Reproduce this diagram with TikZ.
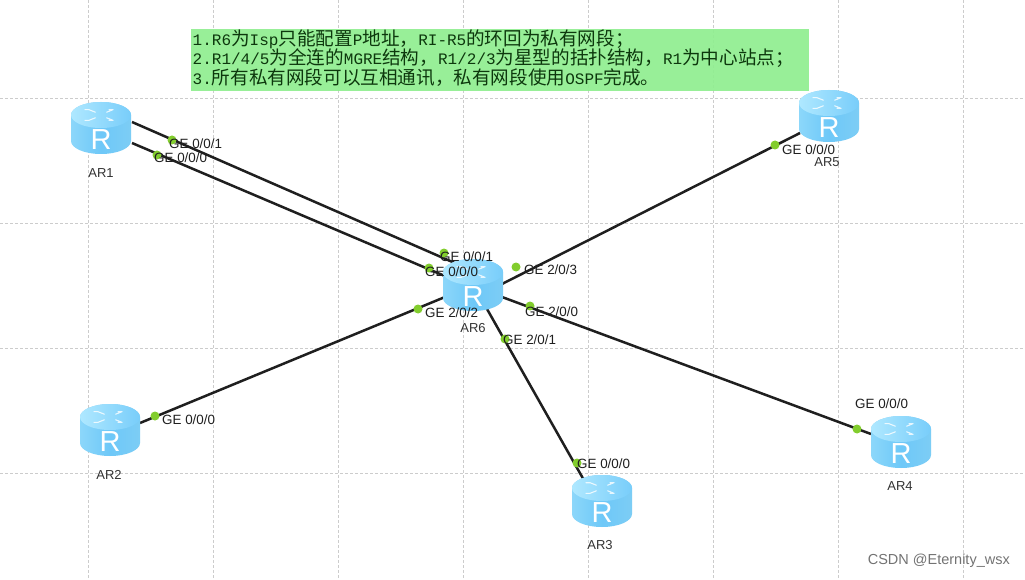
\documentclass[tikz,border=0pt]{standalone}
\usepackage{fontspec}
\setmainfont{Liberation Sans}
\newfontfamily\cjkfont{Noto Sans CJK SC}
\newfontfamily\monofont{Liberation Mono}
\newcommand{\zh}[1]{{\fontsize{18.6}{18.6}\selectfont\cjkfont #1}}
\newcommand{\lat}[1]{{\fontsize{16}{16}\selectfont\monofont #1}}
\definecolor{notegreen}{RGB}{144,238,144}
\definecolor{porg}{RGB}{130,205,45}
\definecolor{rbodyL}{RGB}{140,215,250}
\definecolor{rbodyM}{RGB}{110,200,248}
\definecolor{rbodyR}{RGB}{125,205,245}
\definecolor{rtopL}{RGB}{175,232,255}
\definecolor{rtopR}{RGB}{120,205,250}
\tikzset{
  gridline/.style={draw=black!20,line width=0.7pt,dash pattern=on 3pt off 2pt},
  link/.style={draw=black!88,line width=2.5pt},
  portdot/.style={circle,fill=porg,inner sep=0pt,minimum size=9pt},
  portlab/.style={font=\fontsize{13.4}{13.4}\selectfont,text=black!88,inner sep=0pt,anchor=west},
  routerlab/.style={font=\fontsize{13}{13}\selectfont,text=black!80,inner sep=0pt},
  rhub/.style={circle,inner sep=0pt,minimum size=54pt},
  rletter/.style={font=\fontsize{29}{29}\selectfont,text=white,inner sep=0pt},
  noteline/.style={anchor=west,inner sep=0pt,text=green!18!black!95},
}
\newcommand{\router}[2]{%
  \begin{scope}[shift={(#2)}]
    \path[left color=rbodyL,right color=rbodyR,middle color=rbodyM]
      (-30,-12) -- (-30,14) arc[start angle=180,end angle=0,x radius=30,y radius=13] -- (30,-12)
      arc[start angle=0,end angle=-180,x radius=30,y radius=13] -- cycle;
    \path[left color=rtopL,right color=rtopR]
      (0,-12) ellipse[x radius=30,y radius=13];
    \foreach \a in {45,135,225,315}{
      \draw[white,line width=1.1pt,line cap=round,opacity=.8]
        ({8*cos(\a)},{-12+4*sin(\a)}) -- ({17*cos(\a)},{-12+7.5*sin(\a)})
        ({17*cos(\a)-4},{-12+7.5*sin(\a)}) -- ({17*cos(\a)},{-12+7.5*sin(\a)});
    }
    \node[rletter] (#1R) at (0,13) {R};
  \end{scope}
  \node[rhub] (#1) at (#2) {};
}
\begin{document}
\begin{tikzpicture}[x=1pt,y=-1pt]
\path[use as bounding box,fill=white] (0,0) rectangle (1025,580);
% grid
\foreach \g in {88,213,338,463,588,713,838,963}{\draw[gridline] (\g,0) -- (\g,580);}
\foreach \g in {98,223,348,473}{\draw[gridline] (0,\g) -- (1025,\g);}
% note
\node[fill=notegreen,fill opacity=.92,minimum width=618pt,minimum height=62pt,inner sep=0pt,anchor=north west] (note) at (191,29) {};
\node[noteline] (n1) at (192.5,39) {\lat{1.R6}\zh{为}\lat{Isp}\zh{只能配置}\lat{P}\zh{地址，}\lat{RI-R5}\zh{的环回为私有网段；}};
\node[noteline] (n2) at (192.5,58.5) {\lat{2.R1/4/5}\zh{为全连的}\lat{MGRE}\zh{结构，}\lat{R1/2/3}\zh{为星型的括扑结构，}\lat{R1}\zh{为中心站点；}};
\node[noteline] (n3) at (192.5,78) {\lat{3.}\zh{所有私有网段可以互相通讯，私有网段使用}\lat{OSPF}\zh{完成。}};
% anchors of the links
\coordinate (a1) at (132,122); \coordinate (b1) at (473,271);
\coordinate (a2) at (132,143); \coordinate (b2) at (473,288);
\coordinate (c5) at (800,133); \coordinate (c6) at (500,285);
\coordinate (d2) at (140,423); \coordinate (d6) at (445,297);
\coordinate (e3) at (585,482); \coordinate (e6) at (487,309);
\coordinate (f4) at (871,434); \coordinate (f6) at (502,297);
\draw[link] (a1) -- (b1);
\draw[link] (a2) -- (b2);
\draw[link] (c6) -- (c5);
\draw[link] (d6) -- (d2);
\draw[link] (e6) -- (e3);
\draw[link] (f6) -- (f4);
% routers
\router{ar1}{101,127}
\router{ar5}{829,115}
\router{ar6}{473,284}
\router{ar2}{110,429}
\router{ar3}{602,500}
\router{ar4}{901,441}
% dots
\foreach \n/\x/\y in {p1/172/140,p2/157/155,p3/444/253,p4/429/268,p5/516/267,p6/418/309,p7/530/306,p8/505/339,p9/775/145,p10/155/416,p11/577/463,p12/857/429}{
  \node[portdot] (\n) at (\x,\y) {};
}
% port labels
\node[portlab] (l1) at (169,143.5) {GE 0/0/1};
\node[portlab] (l2) at (154,157.5) {GE 0/0/0};
\node[portlab] (l3) at (440,256.5) {GE 0/0/1};
\node[portlab] (l4) at (425,271.5) {GE 0/0/0};
\node[portlab] (l5) at (524,269.5) {GE 2/0/3};
\node[portlab] (l6) at (425,313) {GE 2/0/2};
\node[portlab] (l7) at (525,312) {GE 2/0/0};
\node[portlab] (l8) at (503,339.5) {GE 2/0/1};
\node[portlab] (l9) at (782,149.5) {GE 0/0/0};
\node[portlab] (l10) at (162,420) {GE 0/0/0};
\node[portlab] (l11) at (577,463.5) {GE 0/0/0};
\node[portlab] (l12) at (855,403.5) {GE 0/0/0};
% router labels
\node[routerlab] (t1) at (101,173) {AR1};
\node[routerlab] (t5) at (827,162) {AR5};
\node[routerlab] (t6) at (473,328) {AR6};
\node[routerlab] (t2) at (109,475) {AR2};
\node[routerlab] (t3) at (600,545) {AR3};
\node[routerlab] (t4) at (900,486.5) {AR4};
% watermark
\node[anchor=east,inner sep=0pt,text=black!55,font=\fontsize{14.5}{14.5}\selectfont] (wm) at (1010,561) {CSDN @Eternity\_wsx};
\end{tikzpicture}
\end{document}
